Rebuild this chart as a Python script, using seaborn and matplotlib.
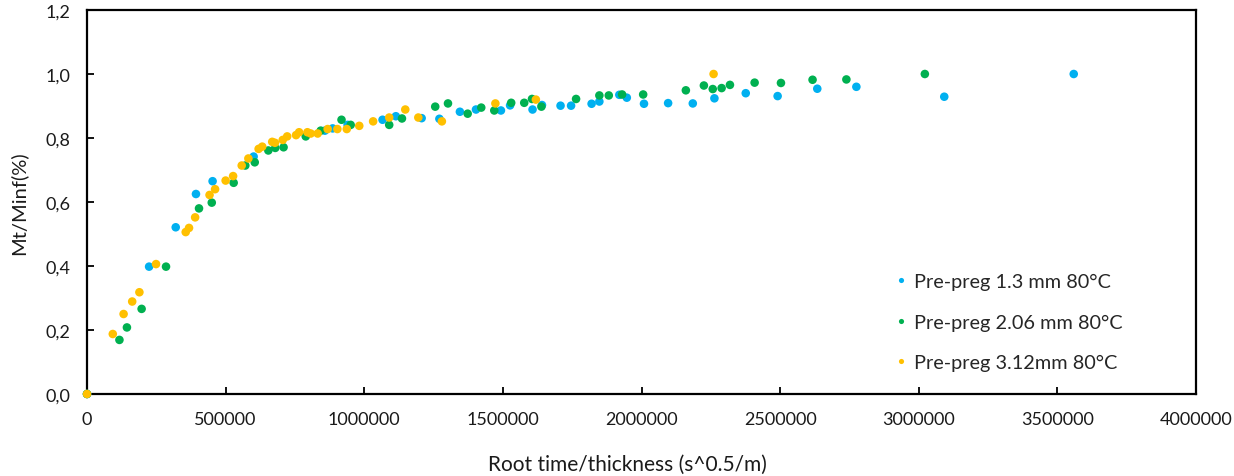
import numpy as np
import pandas as pd
import seaborn as sns
import matplotlib
matplotlib.use("Agg")
import matplotlib.pyplot as plt
from matplotlib.ticker import FuncFormatter

# series
x_13 = [0, 224000, 320000, 393000, 453000, 601000, 858000, 886000, 940000, 1066000,
        1114000, 1207000, 1271000, 1345000, 1403000, 1493000, 1526000, 1607000, 1641000,
        1708000, 1746000, 1820000, 1848000, 1920000, 1947000, 2009000, 2096000, 2185000,
        2263000, 2376000, 2491000, 2634000, 2775000, 3092000, 3559000]
y_13 = [0, 0.398, 0.521, 0.625, 0.665, 0.742, 0.823, 0.830, 0.841, 0.857,
        0.868, 0.862, 0.860, 0.882, 0.889, 0.886, 0.902, 0.889, 0.903,
        0.901, 0.901, 0.907, 0.914, 0.935, 0.926, 0.907, 0.909, 0.908,
        0.924, 0.940, 0.931, 0.954, 0.960, 0.929, 1.000]

x_206 = [0, 117000, 144000, 197000, 285000, 404000, 450000, 529000, 571000, 605000,
         654000, 679000, 709000, 789000, 843000, 918000, 951000, 1090000, 1136000,
         1256000, 1302000, 1373000, 1422000, 1469000, 1530000, 1577000, 1605000,
         1639000, 1764000, 1848000, 1882000, 1930000, 2006000, 2160000, 2225000,
         2257000, 2289000, 2319000, 2408000, 2503000, 2617000, 2739000, 3022000]
y_206 = [0, 0.169, 0.208, 0.266, 0.398, 0.580, 0.598, 0.660, 0.714, 0.724,
         0.761, 0.769, 0.771, 0.805, 0.823, 0.857, 0.841, 0.841, 0.861,
         0.898, 0.908, 0.876, 0.895, 0.886, 0.910, 0.910, 0.922,
         0.898, 0.922, 0.933, 0.933, 0.936, 0.936, 0.949, 0.964,
         0.953, 0.956, 0.966, 0.973, 0.972, 0.982, 0.983, 1.000]

x_312 = [0, 93000, 132000, 163000, 189000, 249000, 356000, 368000, 390000, 442000,
         462000, 500000, 527000, 558000, 582000, 619000, 632000, 668000, 678000,
         706000, 722000, 754000, 765000, 795000, 807000, 832000, 868000, 903000,
         937000, 982000, 1032000, 1090000, 1148000, 1195000, 1280000, 1473000,
         1619000, 2260000]
y_312 = [0, 0.1875, 0.250, 0.289, 0.318, 0.406, 0.506, 0.519, 0.552, 0.622,
         0.640, 0.667, 0.681, 0.714, 0.736, 0.766, 0.773, 0.788, 0.785,
         0.794, 0.805, 0.809, 0.818, 0.818, 0.814, 0.814, 0.828, 0.828,
         0.828, 0.838, 0.852, 0.864, 0.889, 0.864, 0.852, 0.908,
         0.920, 1.000]

labels = ["Pre-preg 1.3 mm 80°C", "Pre-preg 2.06 mm 80°C", "Pre-preg 3.12mm 80°C"]
colors = ["#00B0F0", "#00B050", "#FFC000"]

df = pd.concat([
    pd.DataFrame({"x": x_13, "y": y_13, "serie": labels[0]}),
    pd.DataFrame({"x": x_206, "y": y_206, "serie": labels[1]}),
    pd.DataFrame({"x": x_312, "y": y_312, "serie": labels[2]}),
], ignore_index=True)

sns.set_style("ticks")
plt.rcParams["font.family"] = ["Lato", "DejaVu Sans"]

fig = plt.figure(figsize=(12.34, 4.77), dpi=100)
ax = fig.add_axes([87 / 1234, 1 - 395 / 477, (1196 - 87) / 1234, (395 - 11) / 477])

sns.scatterplot(data=df, x="x", y="y", hue="serie", palette=colors,
                s=38, linewidth=0, ax=ax, zorder=3, clip_on=False)

ax.set_xlim(0, 4000000)
ax.set_ylim(0, 1.2)
ax.set_xticks(np.arange(0, 4000001, 500000))
ax.set_yticks(np.arange(0, 1.21, 0.2))
ax.xaxis.set_major_formatter(FuncFormatter(lambda v, p: f"{int(round(v))}"))
ax.yaxis.set_major_formatter(FuncFormatter(lambda v, p: f"{v:.1f}".replace(".", ",")))

for side in ["left", "right", "top", "bottom"]:
    ax.spines[side].set_visible(True)
    ax.spines[side].set_color("black")
    ax.spines[side].set_linewidth(1.6)

ax.tick_params(axis="both", direction="in", length=5, width=1.3, colors="black",
               labelsize=13, labelcolor="#1a1a1a")
ax.tick_params(axis="x", pad=12)
ax.tick_params(axis="y", pad=12)

ax.set_xlabel("Root time/thickness (s^0.5/m)", fontsize=15, color="#1a1a1a")
ax.xaxis.set_label_coords(0.487, -0.155)
ax.set_ylabel("Mt/Minf(%)", fontsize=14.5, color="#1a1a1a", labelpad=13)

ax.legend(loc="upper left", bbox_to_anchor=(0.716, 0.335), frameon=False,
          fontsize=14.3, markerscale=0.6, handletextpad=0.05, labelspacing=1.18,
          handlelength=1.2, borderaxespad=0)

fig.savefig("out.png", dpi=100)
